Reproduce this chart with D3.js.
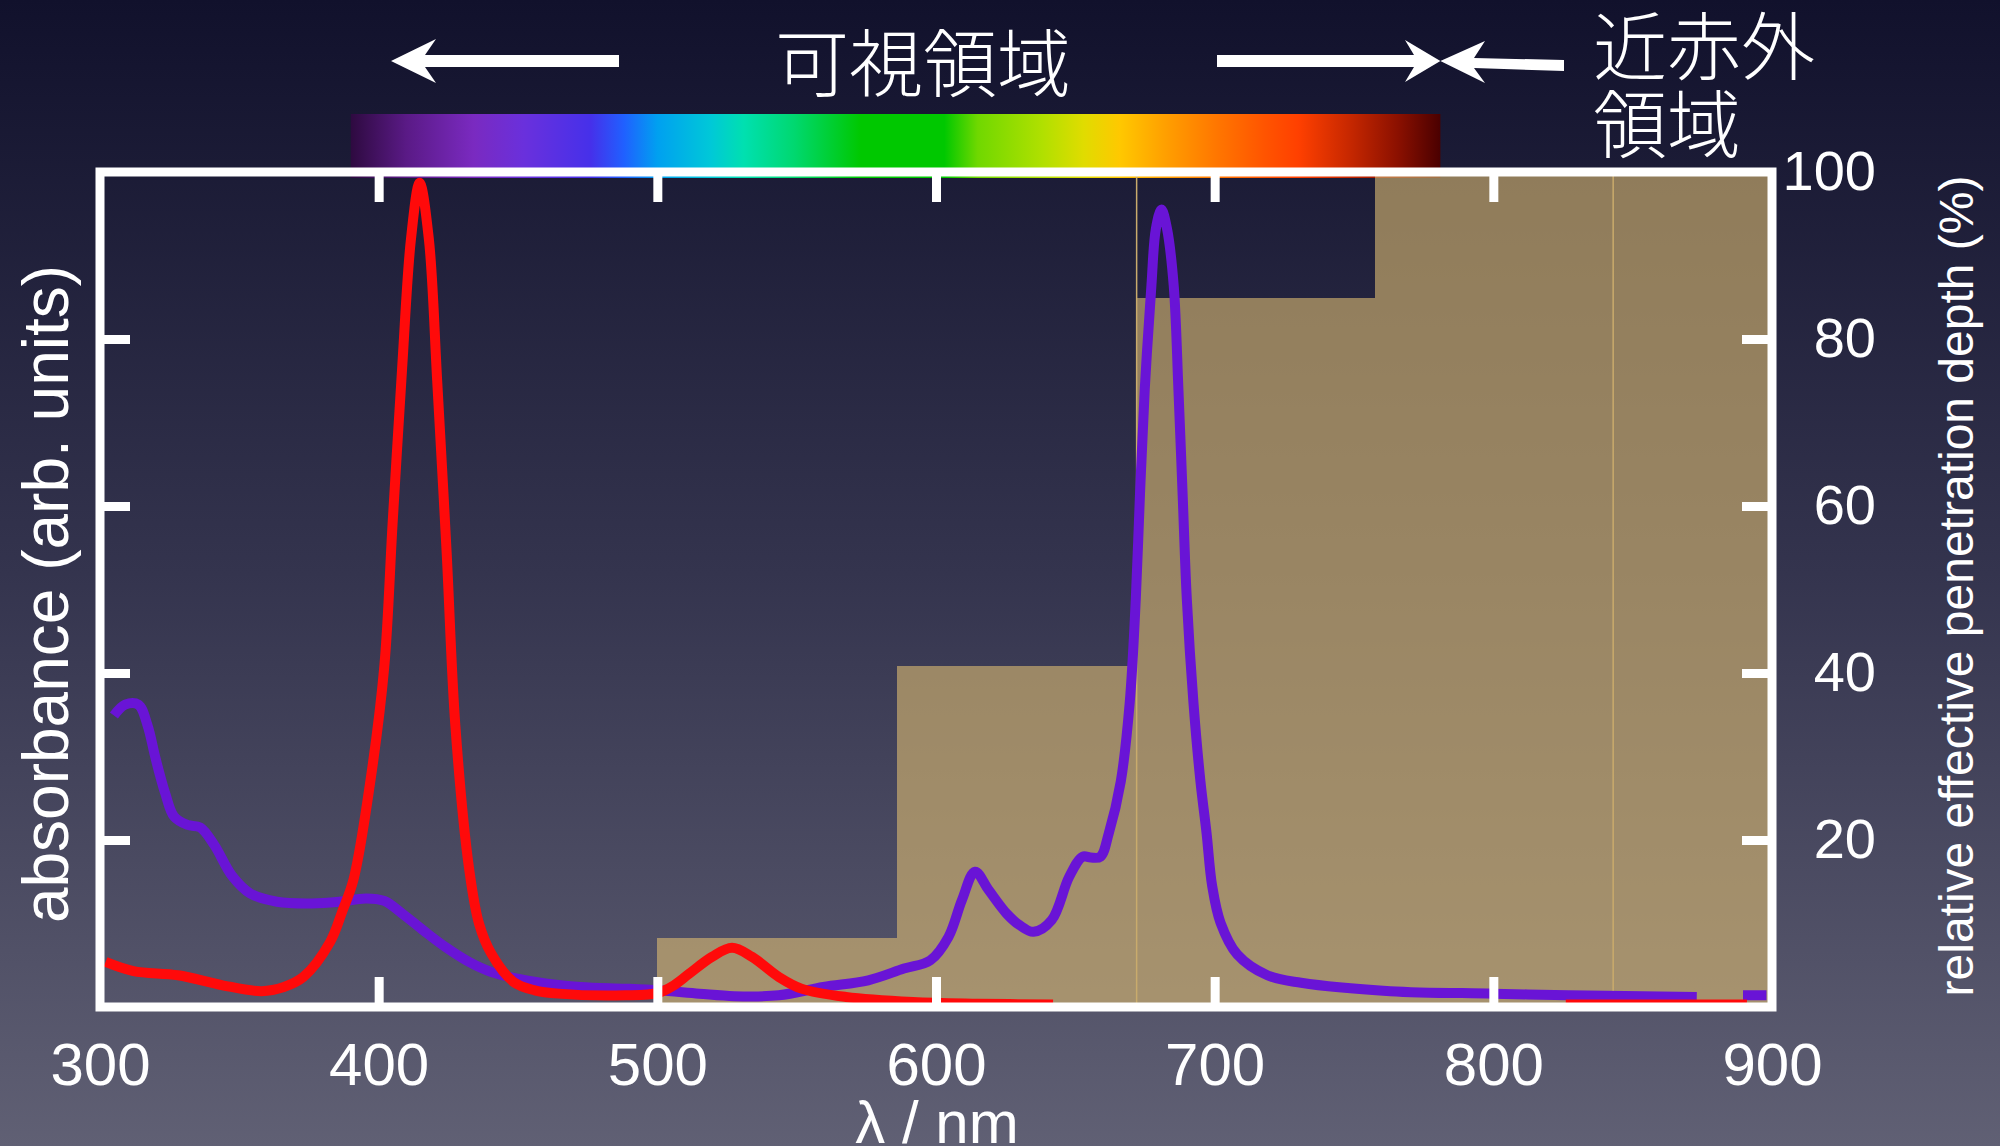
<!DOCTYPE html>
<html>
<head>
<meta charset="utf-8">
<script src="https://cdn.jsdelivr.net/npm/d3@7"></script>
<style>
  html, body { margin: 0; padding: 0; background: #121230; overflow: hidden; }
  svg { display: block; }
</style>
</head>
<body>
<div id="chart"></div>
<script>

// ---- data ----

// x axis (wavelength, nm)
const xLabels = [300, 400, 500, 600, 700, 800, 900];
const xInnerTicks = [400, 500, 600, 700, 800];

// right axis (relative effective penetration depth, %)
const yLabels = [20, 40, 60, 80, 100];
const yInnerTicks = [20, 40, 60, 80];

// penetration depth steps: band edges (nm) and depth (%)
const stepEdges = [500, 586, 672, 757.5, 843, 900];
const stepDepth = [8.3, 40.8, 84.9, 100, 100];
const seamWavelength = [672, 843];

// absorbance, red curve (null = not visible)
const redWavelength = [302, 312, 328, 344, 358, 366, 373, 382.6, 387, 391, 397, 402, 405, 408.4, 411.6, 414.7,
  418, 421, 424.4, 427.5, 432.4, 436, 440.4, 448.4, 456, 464.5, 488.5, 500.4, 506, 511.5, 519.6, 526.8,
  534, 543.6, 551.7, 567.7, 591.7, 615, 642, 650, 826, 891];
const redAbsorbance = [5.4, 4.3, 3.8, 2.6, 1.9, 2.4, 3.6, 7.8, 11.5, 15.3, 27, 40.7, 57.9, 76.4, 92, 98.7,
  92, 75, 54.4, 33.8, 16.7, 10, 6.4, 3, 2, 1.6, 1.4, 1.7, 2.6, 4, 6, 7.1,
  6, 3.6, 2.2, 1.2, 0.6, 0.4, 0.3, null, 0.3, 0.3];

// absorbance, purple curve
const purpleWavelength = [305, 309, 313.8, 317, 320, 323.4, 326.6, 331.4, 336, 341, 347.4, 353.9, 363.5, 376,
  385.8, 395.5, 402, 408.4, 416.3, 424.3, 432.4, 440.4, 456.4, 472.4, 488.5, 500.4, 515, 527.6, 543.6,
  559.6, 575.7, 588.5, 598, 604.5, 609.3, 614, 618.9, 625.3, 630, 635, 641.5, 647.8, 652.6, 655.5, 659, 662,
  666.3, 669.5, 671.7, 673.2, 674.9, 677.3, 678.9, 680.9, 682.9, 685.3, 687, 688.5, 690, 692.4, 694.9,
  697.1, 699.1, 702.1, 708.1, 718.9, 731, 763, 800, 827, 873, 880, 889.6, 898];
const purpleAbsorbance = [34.9, 36.2, 36.2, 33.8, 29.7, 25.6, 22.8, 21.8, 21.5, 19.4, 15.7, 13.6, 12.6, 12.4,
  12.6, 13, 12.7, 11.2, 9.1, 7.1, 5.4, 4.2, 3, 2.4, 2.2, 2, 1.6, 1.3, 1.4,
  2.4, 3.2, 4.6, 5.6, 8.4, 12.8, 16.2, 14, 11.2, 9.8, 9, 10.4, 15.6, 18, 17.9, 18, 20.8,
  27, 36.4, 48.9, 61.4, 73.9, 86.4, 93.2, 95.5, 93.2, 86.4, 73.9, 61.4, 48.9, 36.4, 27,
  20.8, 14.5, 10.1, 6.3, 3.8, 2.9, 1.9, 1.6, 1.4, 1.2, null, 1.4, 1.4];

// visible spectrum bar, colour stops by wavelength
const spectrumWavelength = [390, 410, 434, 452, 476, 488, 500, 519, 531, 549, 573, 603, 615, 638, 653, 666,
  682, 700, 718, 730, 748, 766, 781];
const spectrumColor = ["#2e0a40", "#5a1a86", "#7a2ac0", "#6a30dc", "#4630ea", "#2060ff", "#00a0f0", "#00c8d8",
  "#00e0b0", "#00d870", "#00c800", "#00c800", "#70d800", "#b0e000", "#e0dc00", "#ffc800",
  "#ffa000", "#ff7800", "#ff5400", "#ff4000", "#c82800", "#8a1000", "#4a0000"];

// ---- layout ----
const width = 2000;
const height = 1146;
const frame = { left: 100, right: 1772, top: 172, bottom: 1007 };
const tickLen = 30;
const fontLatin = "'Liberation Sans', Arial, Helvetica, sans-serif";
const fontCJK = "'Noto Sans CJK JP', 'Noto Sans CJK SC', sans-serif";

const x = d3.scaleLinear().domain([300, 900]).range([frame.left, frame.right]);
const y = d3.scaleLinear().domain([0, 100]).range([frame.bottom, frame.top]);

const svg = d3.select("#chart").append("svg")
    .attr("width", width)
    .attr("height", height);

const defs = svg.append("defs");

// background gradient, dark navy to grey
const bg = defs.append("linearGradient").attr("id", "bg").attr("x1", 0).attr("y1", 0).attr("x2", 0).attr("y2", 1);
bg.append("stop").attr("offset", 0).attr("stop-color", "#11112c");
bg.append("stop").attr("offset", 0.5).attr("stop-color", "#34344e");
bg.append("stop").attr("offset", 1).attr("stop-color", "#606074");
svg.append("rect").attr("width", width).attr("height", height).attr("fill", "url(#bg)");

// spectrum gradient
const specX0 = x(spectrumWavelength[0]);
const specX1 = x(spectrumWavelength[spectrumWavelength.length - 1]);
const spec = defs.append("linearGradient").attr("id", "spec")
    .attr("gradientUnits", "userSpaceOnUse")
    .attr("x1", specX0).attr("x2", specX1).attr("y1", 0).attr("y2", 0);
spec.selectAll("stop")
    .data(spectrumWavelength)
    .join("stop")
    .attr("offset", (d, i) => (x(d) - specX0) / (specX1 - specX0))
    .attr("stop-color", (d, i) => spectrumColor[i]);

svg.append("rect")
    .attr("x", specX0).attr("y", 114)
    .attr("width", specX1 - specX0).attr("height", 64)
    .attr("fill", "url(#spec)");

// plot clip
defs.append("clipPath").attr("id", "plotClip")
  .append("rect")
    .attr("x", frame.left).attr("y", frame.top)
    .attr("width", frame.right - frame.left).attr("height", frame.bottom - frame.top);

const plot = svg.append("g").attr("clip-path", "url(#plotClip)");

// penetration depth steps
const steps = stepDepth.map((v, i) => ({ x0: stepEdges[i], x1: stepEdges[i + 1], v: v }));
plot.append("g")
  .selectAll("rect")
  .data(steps)
  .join("rect")
    .attr("x", d => x(d.x0))
    .attr("y", d => y(d.v))
    .attr("width", d => x(d.x1) - x(d.x0))
    .attr("height", d => y(0) - y(d.v))
    .attr("fill", "rgb(216,184,113)")
    .attr("fill-opacity", 0.62)
    .attr("shape-rendering", "crispEdges");

plot.append("g")
  .selectAll("line")
  .data(seamWavelength)
  .join("line")
    .attr("x1", d => x(d)).attr("x2", d => x(d))
    .attr("y1", y(100)).attr("y2", y(0))
    .attr("stroke", "#c9ab6c")
    .attr("stroke-width", 1.5);

// absorbance curves
const line = d3.line()
    .defined(d => d[1] != null)
    .x(d => x(d[0]))
    .y(d => y(d[1]))
    .curve(d3.curveCatmullRom.alpha(0.5));

const purple = purpleWavelength.map((w, i) => [w, purpleAbsorbance[i]]);
const red = redWavelength.map((w, i) => [w, redAbsorbance[i]]);

plot.append("path")
    .datum(purple)
    .attr("d", line)
    .attr("fill", "none")
    .attr("stroke", "#6914d6")
    .attr("stroke-width", 10)
    .attr("stroke-linejoin", "round");

plot.append("path")
    .datum(red)
    .attr("d", line)
    .attr("fill", "none")
    .attr("stroke", "#ff0a0a")
    .attr("stroke-width", 10)
    .attr("stroke-linejoin", "round");

// frame + inward ticks
const axes = svg.append("g").attr("stroke", "#fff").attr("stroke-width", 9);

axes.append("g").attr("transform", `translate(0,${frame.bottom})`)
    .call(d3.axisBottom(x).tickValues(xInnerTicks).tickSize(-tickLen).tickSizeOuter(0).tickFormat(""));
axes.append("g").attr("transform", `translate(0,${frame.top})`)
    .call(d3.axisTop(x).tickValues(xInnerTicks).tickSize(-tickLen).tickSizeOuter(0).tickFormat(""));
axes.append("g").attr("transform", `translate(${frame.left},0)`)
    .call(d3.axisLeft(y).tickValues(yInnerTicks).tickSize(-tickLen).tickSizeOuter(0).tickFormat(""));
axes.append("g").attr("transform", `translate(${frame.right},0)`)
    .call(d3.axisRight(y).tickValues(yInnerTicks).tickSize(-tickLen).tickSizeOuter(0).tickFormat(""));
axes.selectAll(".domain").remove();
axes.selectAll(".tick line").attr("stroke", "#fff").attr("stroke-width", 9);

axes.append("rect")
    .attr("x", frame.left).attr("y", frame.top)
    .attr("width", frame.right - frame.left).attr("height", frame.bottom - frame.top)
    .attr("fill", "none");

// tick labels
svg.append("g")
    .attr("transform", `translate(0,${frame.bottom})`)
    .call(d3.axisBottom(x).tickValues(xLabels).tickSize(0).tickPadding(35).tickFormat(d3.format("d")))
    .call(g => g.select(".domain").remove())
    .call(g => g.selectAll("text")
        .attr("fill", "#fff")
        .style("font-family", fontLatin)
        .style("font-size", "60px"));

svg.append("g")
    .attr("transform", `translate(${frame.right},0)`)
    .call(d3.axisRight(y).tickValues(yLabels).tickSize(0).tickFormat(d3.format("d")))
    .call(g => g.select(".domain").remove())
    .call(g => g.selectAll("text")
        .attr("fill", "#fff")
        .attr("x", 104)
        .attr("text-anchor", "end")
        .style("font-family", fontLatin)
        .style("font-size", "56px"));

// axis titles
svg.append("text")
    .attr("transform", "translate(68,594) rotate(-90)")
    .attr("text-anchor", "middle")
    .attr("fill", "#fff")
    .style("font-family", fontLatin)
    .style("font-size", "64px")
    .text("absorbance (arb. units)");

svg.append("text")
    .attr("transform", "translate(1973,586) rotate(-90)")
    .attr("text-anchor", "middle")
    .attr("fill", "#fff")
    .style("font-family", fontLatin)
    .style("font-size", "48px")
    .text("relative effective penetration depth (%)");

svg.append("text")
    .attr("x", 937).attr("y", 1143)
    .attr("text-anchor", "middle")
    .attr("fill", "#fff")
    .style("font-family", fontLatin)
    .style("font-size", "60px")
    .text("λ / nm");

// region labels and arrows
svg.append("text")
    .attr("x", 923).attr("y", 91)
    .attr("text-anchor", "middle")
    .attr("fill", "#fff")
    .style("font-family", fontCJK)
    .style("font-weight", 300)
    .style("font-size", "74px")
    .text("可視領域");

const nir = svg.append("text")
    .attr("fill", "#fff")
    .style("font-family", fontCJK)
    .style("font-weight", 300)
    .style("font-size", "74px");
nir.append("tspan").attr("x", 1593).attr("y", 74).text("近赤外");
nir.append("tspan").attr("x", 1593).attr("y", 152).text("領域");

const arrows = [
  "M391,61 L436,39 L425,55 L619,55 L619,67 L425,67 L436,83 Z",
  `M${specX1},61 L1405,40 L1414,55 L1217,55 L1217,67 L1414,67 L1405,82 Z`,
  `M${specX1},61 L1485,41 L1474,58 L1564,60 L1564,71 L1474,68 L1485,83 Z`
];
svg.append("g")
  .selectAll("path")
  .data(arrows)
  .join("path")
    .attr("d", d => d)
    .attr("fill", "#fff");

</script>
</body>
</html>
